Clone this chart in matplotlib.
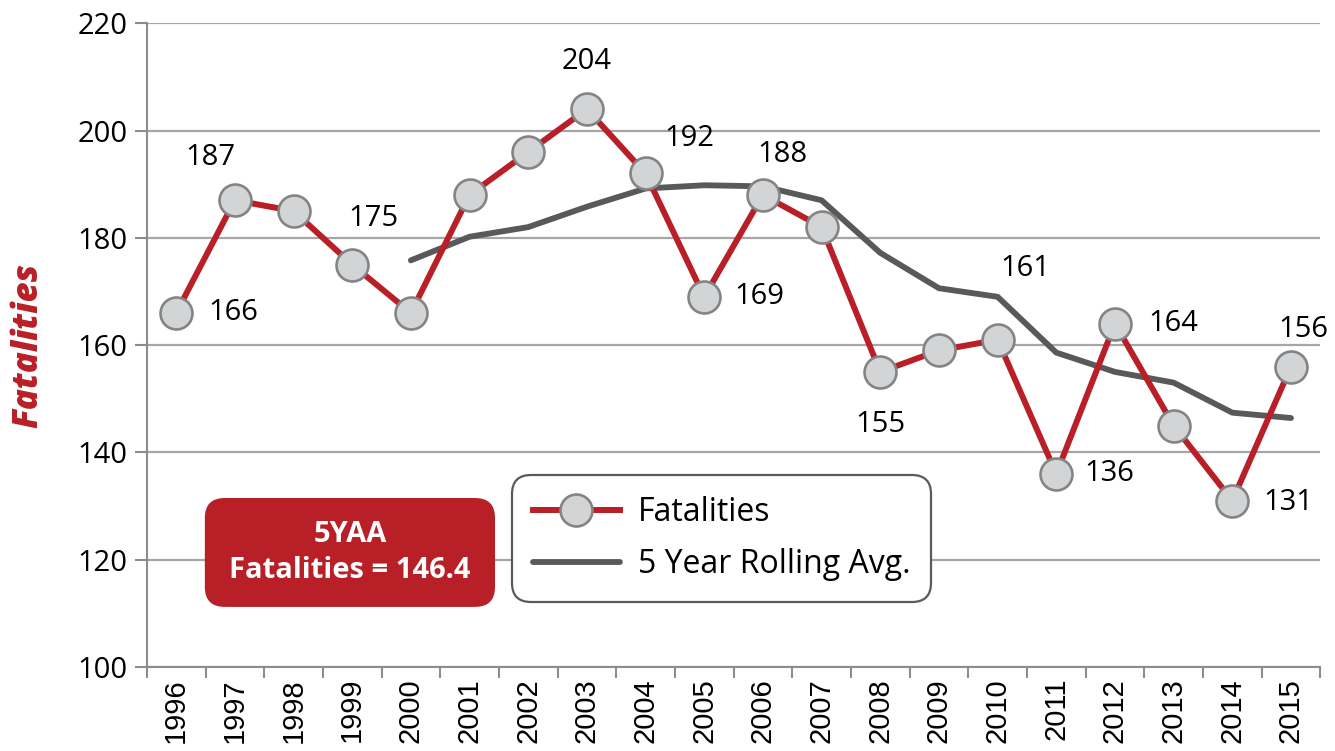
import matplotlib
matplotlib.use('Agg')
import matplotlib.pyplot as plt
from matplotlib.patches import FancyBboxPatch

years = [str(y) for y in range(1996, 2016)]
fatalities = [166, 187, 185, 175, 166, 188, 196, 204, 192, 169,
              188, 182, 155, 159, 161, 136, 164, 145, 131, 156]
# 5 year rolling average, starts in 2000
avg_years = years[4:]
rolling_avg = [175.8, 180.2, 182.0, 185.8, 189.2, 189.8, 189.6, 187.0,
               177.2, 170.6, 169.0, 158.6, 155.0, 153.0, 147.4, 146.4]

# which points get a value label, and where (pixel offsets)
label_offsets = {
    '1996': (57, 0), '1997': (-24, 43), '1999': (21, 46), '2003': (0, 48),
    '2004': (44, 35), '2005': (55, 0), '2006': (19, 40), '2008': (0, -53),
    '2010': (28, 71), '2011': (53, 0), '2012': (58, 0), '2014': (56, -2),
    '2015': (12, 37),
}

RED = '#b91f27'
GREY = '#58595b'
FONT = ['Open Sans', 'DejaVu Sans']

fig = plt.figure(figsize=(13.35, 7.51), dpi=100)
ax = fig.add_axes([0.110, 0.112, 0.879, 0.857])

xs = list(range(len(years)))
avg_xs = [years.index(y) for y in avg_years]

ax.plot(xs, fatalities, color=RED, lw=4.3, marker='o', markersize=23,
        markerfacecolor='#d3d4d6', markeredgecolor='#848484',
        markeredgewidth=1.9, label='Fatalities', zorder=4)
ax.plot(avg_xs, rolling_avg, color=GREY, lw=4.2, solid_capstyle='round',
        label='5 Year Rolling Avg.', zorder=3)

for i, y in enumerate(years):
    if y in label_offsets:
        dx, dy = label_offsets[y]
        ax.annotate(str(fatalities[i]), (i, fatalities[i]), xytext=(dx, dy),
                    textcoords='offset pixels', ha='center', va='center',
                    fontsize=21, family=FONT, zorder=5)

ax.set_xlim(-0.5, len(years) - 0.5)
ax.set_ylim(100, 220)
ax.set_yticks(range(100, 221, 20))
ax.set_xticks(xs)
ax.set_xticklabels(years, rotation=90, fontsize=21, family=['Liberation Sans', 'DejaVu Sans'])
ax.set_xticks([x - 0.5 for x in range(len(years) + 1)], minor=True)
ax.tick_params(axis='x', which='major', length=0, pad=8)
ax.tick_params(axis='x', which='minor', length=8, width=1.5, color='#8c8c8c')
ax.tick_params(axis='y', length=9, width=1.5, color='#8c8c8c', labelsize=21, pad=5)
for lab in ax.get_yticklabels():
    lab.set_family(FONT)

ax.grid(axis='y', color='#a6a6a6', lw=1.6)
ax.set_axisbelow(True)
for s in ['top', 'right']:
    ax.spines[s].set_visible(False)
for s in ['left', 'bottom']:
    ax.spines[s].set_color('#8c8c8c')
    ax.spines[s].set_linewidth(1.5)

ax.set_ylabel('Fatalities', color=RED, fontsize=25, fontweight='heavy',
              fontstyle='italic', family=FONT, labelpad=22)

# red 5YAA box
box = FancyBboxPatch((0.0494, 0.0932), 0.2473, 0.1692, transform=ax.transAxes,
                     boxstyle='round,pad=0,rounding_size=0.017',
                     mutation_aspect=1173 / 644, facecolor=RED, edgecolor='none',
                     zorder=6)
ax.add_patch(box)
ax.text(0.173, 0.1778, '5YAA\nFatalities = ' + str(rolling_avg[-1]),
        transform=ax.transAxes, ha='center', va='center', color='white',
        fontsize=21, fontweight='bold', family=FONT, linespacing=1.3, zorder=7)

leg = ax.legend(loc='upper left', bbox_to_anchor=(0.311, 0.298),
                prop={'family': FONT, 'size': 23}, handlelength=2.75,
                borderpad=0.65, labelspacing=0.6, handletextpad=0.55,
                borderaxespad=0, fancybox=True, framealpha=1)
leg.get_frame().set_edgecolor('#5a5a5a')
leg.get_frame().set_linewidth(1.6)
leg.get_frame().set_boxstyle('round,pad=0,rounding_size=0.6')
leg.set_zorder(8)

fig.savefig('out.png', dpi=100)
